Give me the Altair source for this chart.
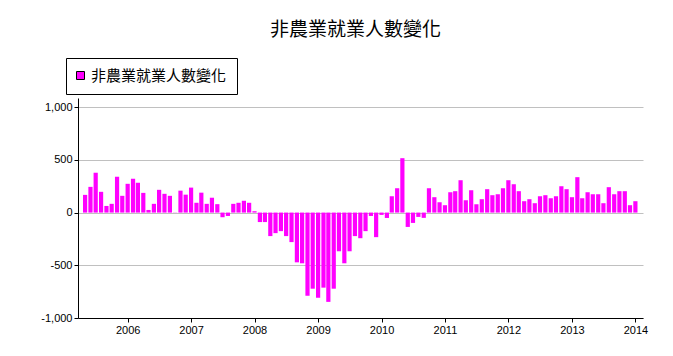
import altair as alt
import pandas as pd

# Monthly change in nonfarm payrolls (thousands), May 2005 - Jan 2014
vals_2005 = [168, 244, 378, 197, 63, 83, 340, 159]          # May-Dec
vals_2006 = [273, 321, 283, 187, 25, 83, 216, 178, 159, 2, 208, 170]
vals_2007 = [237, 93, 189, 83, 141, 80, -44, -32, 83, 93, 112, 93]
vals_2008 = [13, -90, -90, -223, -195, -176, -223, -280, -472, -481, -789, -722]
vals_2009 = [-808, -712, -847, -722, -367, -481, -367, -223, -243, -176, -32, -233]
vals_2010 = [-22, -51, 155, 231, 516, -136, -98, -41, -50, 231, 146, 98]
vals_2011 = [70, 193, 203, 307, 117, 212, 79, 127, 222, 165, 174, 231]
vals_2012 = [307, 269, 203, 108, 127, 89, 155, 165, 136, 155, 250, 222]
vals_2013 = [146, 336, 136, 193, 174, 174, 89, 241, 174, 203, 203, 70]
vals_2014 = [108]                                              # Jan

series_name = "非農業就業人數變化"
title_text = "非農業就業人數變化"
y_ticks = [-1000, -500, 0, 500, 1000]
x_tick_years = list(range(2006, 2015))

values = (vals_2005 + vals_2006 + vals_2007 + vals_2008 + vals_2009 +
          vals_2010 + vals_2011 + vals_2012 + vals_2013 + vals_2014)
dates = pd.date_range("2005-05-01", periods=len(values), freq="MS")
df = pd.DataFrame({
    "date": [d.strftime("%Y-%m-%dT00:00:00") for d in dates],
    "value": values,
    "series": series_name,
})

chart = alt.Chart(df).mark_bar(size=4.2).encode(
    x=alt.X(
        "date:T",
        scale=alt.Scale(domain=[alt.DateTime(year=2005, month=4, date=19),
                                alt.DateTime(year=2014, month=1, date=16)]),
        axis=alt.Axis(
            values=[alt.DateTime(year=y, month=1, date=1) for y in x_tick_years],
            format="%Y", grid=False, title=None,
            domainColor="black", tickColor="black", tickSize=4,
            labelFont="Liberation Sans", labelFontSize=11, labelColor="black",
            labelPadding=2, labelFlush=False, labelOverlap=False,
        ),
    ),
    y=alt.Y(
        "value:Q",
        scale=alt.Scale(domain=[-1000, 1087], nice=False, zero=False),
        axis=alt.Axis(
            values=y_ticks, format=",d", title=None,
            labelExpr="replace(datum.label, '\u2212', '-')",
            grid=True, gridColor="#c0c0c0", gridWidth=1,
            domainColor="black", tickColor="black", tickSize=4,
            labelFont="Liberation Sans", labelFontSize=11, labelColor="black",
            labelPadding=2,
        ),
    ),
    color=alt.Color(
        "series:N",
        scale=alt.Scale(domain=[series_name], range=["#FF00FF"]),
        legend=alt.Legend(
            title=None, orient="none", legendX=-12, legendY=-40,
            strokeColor="black", fillColor="white", padding=10, cornerRadius=0,
            symbolType="square", symbolSize=64, symbolStrokeColor="black",
            symbolStrokeWidth=1, symbolOpacity=1, symbolOffset=-3,
            labelFont="Noto Sans CJK TC", labelFontSize=15, labelColor="black",
            labelOffset=3,
        ),
    ),
).properties(
    width=565,
    height=220,
    background="white",
    title=alt.TitleParams(
        text=title_text, font="Noto Sans CJK TC", fontSize=19,
        fontWeight="normal", color="black", anchor="middle",
        baseline="bottom", offset=18, dy=19, dx=-5,
    ),
    autosize=alt.AutoSizeParams(type="none"),
    padding={"left": 78, "top": 98, "right": 30, "bottom": 38},
).configure_view(stroke=None)

chart.save("out.html", embed_options={"renderer": "svg", "actions": False})
